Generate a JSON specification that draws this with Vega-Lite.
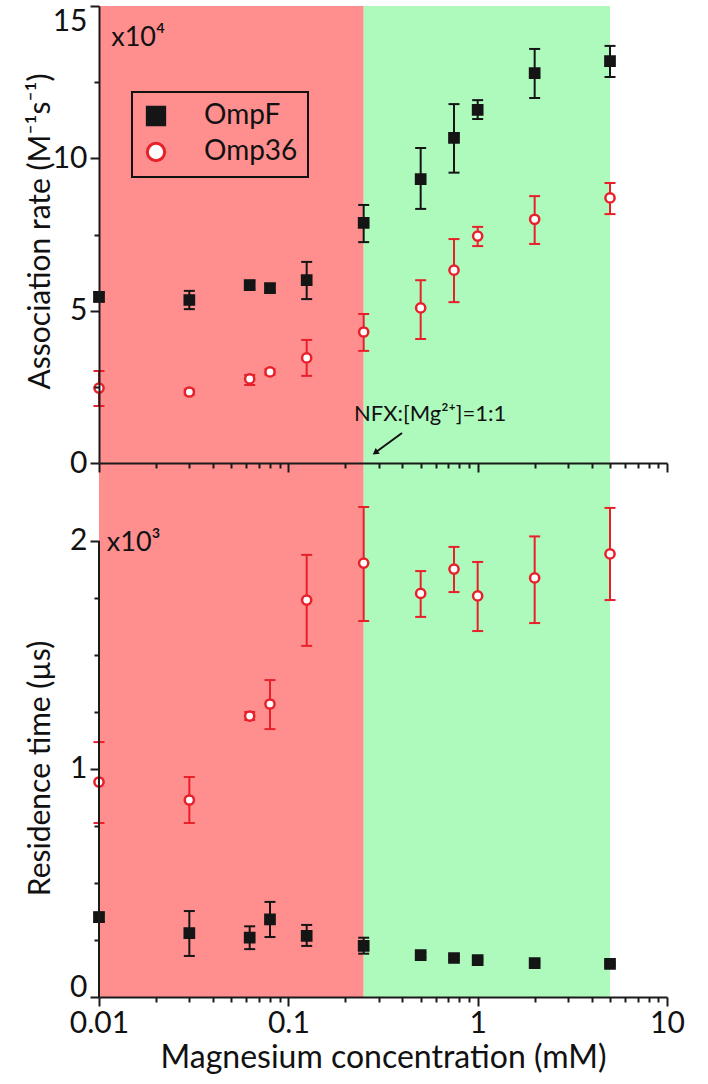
{
  "$schema": "https://vega.github.io/schema/vega-lite/v6.json",
  "padding": {"left": 25, "top": 5, "right": 5, "bottom": 5},
  "background": "white",
  "config": {
    "view": {"stroke": null},
    "font": "Lato",
    "legend": {"strokeWidth": 2, "labelFont": "Lato", "labelFontSize": 28, "labelColor": "#111111", "labelOffset": 34, "symbolSize": 300, "symbolStrokeWidth": 3, "rowPadding": 6, "padding": 10, "strokeColor": "#111111"},
    "axis": {
      "domainColor": "#1a1a1a", "domainWidth": 2, "tickColor": "#1a1a1a", "tickWidth": 2,
      "labelFont": "Lato", "labelFontSize": 30, "labelColor": "#111111",
      "titleFont": "Lato", "titleFontSize": 30, "titleFontWeight": "normal", "titleColor": "#111111",
      "grid": false, "labelOverlap": false, "labelFlush": false
    }
  },
  "spacing": 0,
  "bounds": "flush",
  "resolve": {"legend": {"fill": "independent", "stroke": "independent", "shape": "independent", "color": "independent"}},
  "datasets": {
    "bands": [
      {"zone": "low", "conc": 0.01, "conc_end": 0.25},
      {"zone": "high", "conc": 0.25, "conc_end": 5}
    ],
    "pts": [
      {"panel": "assoc", "series": "OmpF", "conc": 0.01, "val": 5.45, "lo": 5.3, "hi": 5.6},
      {"panel": "assoc", "series": "OmpF", "conc": 0.03, "val": 5.35, "lo": 5.05, "hi": 5.65},
      {"panel": "assoc", "series": "OmpF", "conc": 0.0625, "val": 5.84, "lo": 5.7, "hi": 5.98},
      {"panel": "assoc", "series": "OmpF", "conc": 0.08, "val": 5.74, "lo": 5.62, "hi": 5.86},
      {"panel": "assoc", "series": "OmpF", "conc": 0.125, "val": 6.0, "lo": 5.38, "hi": 6.6},
      {"panel": "assoc", "series": "OmpF", "conc": 0.25, "val": 7.88, "lo": 7.25, "hi": 8.47},
      {"panel": "assoc", "series": "OmpF", "conc": 0.5, "val": 9.32, "lo": 8.34, "hi": 10.34},
      {"panel": "assoc", "series": "OmpF", "conc": 0.75, "val": 10.67, "lo": 9.53, "hi": 11.78},
      {"panel": "assoc", "series": "OmpF", "conc": 1, "val": 11.59, "lo": 11.29, "hi": 11.91},
      {"panel": "assoc", "series": "OmpF", "conc": 2, "val": 12.8, "lo": 11.98, "hi": 13.59},
      {"panel": "assoc", "series": "OmpF", "conc": 5, "val": 13.19, "lo": 12.67, "hi": 13.69},
      {"panel": "assoc", "series": "Omp36", "conc": 0.01, "val": 2.46, "lo": 1.87, "hi": 3.02},
      {"panel": "assoc", "series": "Omp36", "conc": 0.03, "val": 2.33, "lo": 2.25, "hi": 2.41},
      {"panel": "assoc", "series": "Omp36", "conc": 0.0625, "val": 2.76, "lo": 2.56, "hi": 2.89},
      {"panel": "assoc", "series": "Omp36", "conc": 0.08, "val": 2.99, "lo": 2.9, "hi": 3.08},
      {"panel": "assoc", "series": "Omp36", "conc": 0.125, "val": 3.45, "lo": 2.86, "hi": 4.04},
      {"panel": "assoc", "series": "Omp36", "conc": 0.25, "val": 4.3, "lo": 3.68, "hi": 4.89},
      {"panel": "assoc", "series": "Omp36", "conc": 0.5, "val": 5.09, "lo": 4.07, "hi": 6.0},
      {"panel": "assoc", "series": "Omp36", "conc": 0.75, "val": 6.33, "lo": 5.28, "hi": 7.35},
      {"panel": "assoc", "series": "Omp36", "conc": 1, "val": 7.45, "lo": 7.12, "hi": 7.75},
      {"panel": "assoc", "series": "Omp36", "conc": 2, "val": 8.0, "lo": 7.19, "hi": 8.76},
      {"panel": "assoc", "series": "Omp36", "conc": 5, "val": 8.7, "lo": 8.17, "hi": 9.19},
      {"panel": "res", "series": "OmpF", "conc": 0.01, "val": 0.35, "lo": 0.33, "hi": 0.37},
      {"panel": "res", "series": "OmpF", "conc": 0.03, "val": 0.28, "lo": 0.18, "hi": 0.377},
      {"panel": "res", "series": "OmpF", "conc": 0.0625, "val": 0.26, "lo": 0.21, "hi": 0.31},
      {"panel": "res", "series": "OmpF", "conc": 0.08, "val": 0.34, "lo": 0.263, "hi": 0.417},
      {"panel": "res", "series": "OmpF", "conc": 0.125, "val": 0.268, "lo": 0.224, "hi": 0.316},
      {"panel": "res", "series": "OmpF", "conc": 0.25, "val": 0.224, "lo": 0.19, "hi": 0.26},
      {"panel": "res", "series": "OmpF", "conc": 0.5, "val": 0.184, "lo": 0.175, "hi": 0.193},
      {"panel": "res", "series": "OmpF", "conc": 0.75, "val": 0.171, "lo": 0.162, "hi": 0.18},
      {"panel": "res", "series": "OmpF", "conc": 1, "val": 0.162, "lo": 0.155, "hi": 0.17},
      {"panel": "res", "series": "OmpF", "conc": 2, "val": 0.149, "lo": 0.142, "hi": 0.156},
      {"panel": "res", "series": "OmpF", "conc": 5, "val": 0.145, "lo": 0.138, "hi": 0.152},
      {"panel": "res", "series": "Omp36", "conc": 0.01, "val": 0.943, "lo": 0.763, "hi": 1.118},
      {"panel": "res", "series": "Omp36", "conc": 0.03, "val": 0.864, "lo": 0.763, "hi": 0.965},
      {"panel": "res", "series": "Omp36", "conc": 0.0625, "val": 1.232, "lo": 1.215, "hi": 1.25},
      {"panel": "res", "series": "Omp36", "conc": 0.08, "val": 1.285, "lo": 1.175, "hi": 1.39},
      {"panel": "res", "series": "Omp36", "conc": 0.125, "val": 1.741, "lo": 1.54, "hi": 1.939},
      {"panel": "res", "series": "Omp36", "conc": 0.25, "val": 1.903, "lo": 1.649, "hi": 2.149},
      {"panel": "res", "series": "Omp36", "conc": 0.5, "val": 1.77, "lo": 1.667, "hi": 1.868},
      {"panel": "res", "series": "Omp36", "conc": 0.75, "val": 1.877, "lo": 1.776, "hi": 1.974},
      {"panel": "res", "series": "Omp36", "conc": 1, "val": 1.759, "lo": 1.605, "hi": 1.908},
      {"panel": "res", "series": "Omp36", "conc": 2, "val": 1.838, "lo": 1.64, "hi": 2.02},
      {"panel": "res", "series": "Omp36", "conc": 5, "val": 1.943, "lo": 1.741, "hi": 2.145}
    ]
  },
  "vconcat": [
    {
      "width": 568,
      "height": 457,
      "resolve": {"axis": {"x": "independent", "y": "independent"}},
      "layer": [
        {
          "data": {"name": "bands"},
          "mark": {"type": "rect"},
          "encoding": {
            "x": {"field": "conc", "type": "quantitative", "scale": {"type": "log", "domain": [0.01, 10], "nice": false}, "axis": null},
            "x2": {"field": "conc_end"},
            "color": {"field": "zone", "type": "nominal", "scale": {"domain": ["low", "high"], "range": ["#ff8f8f", "#aefabd"]}, "legend": null}
          }
        },
        {
          "data": {"name": "pts"},
          "transform": [{"filter": "datum.panel === 'assoc'"}],
          "mark": {"type": "rule", "strokeWidth": 2},
          "encoding": {
            "x": {"field": "conc", "type": "quantitative", "scale": {"type": "log", "domain": [0.01, 10], "nice": false}, "axis": null},
            "y": {"field": "lo", "type": "quantitative", "scale": {"domain": [0, 15], "nice": false},
              "axis": {"orient": "left", "zindex": 1, "values": [0, 5, 10, 15], "format": "d", "tickSize": 9, "labelPadding": 3,
                "labelBaseline": {"condition": {"test": "datum.value === 15", "value": "top"}, "value": "middle"},
                "title": "Association rate (M⁻¹s⁻¹)",
                "titleX": -50, "titleY": 225, "titleAngle": -90, "titleAlign": "center", "titleBaseline": "alphabetic"}},
            "y2": {"field": "hi"},
            "stroke": {"field": "series", "type": "nominal", "scale": {"domain": ["OmpF", "Omp36"], "range": ["#151515", "#e8202a"]},
              "legend": {"title": null, "orient": "none", "legendX": 33, "legendY": 86, "labelFontSize": 28, "labelOffset": 34, "symbolSize": 300, "symbolStrokeWidth": 3}}
          }
        },
        {
          "data": {"name": "pts"},
          "transform": [{"filter": "datum.panel === 'assoc'"}],
          "mark": {"type": "rule", "strokeWidth": 2, "xOffset": -5.5, "x2Offset": 5.5},
          "encoding": {
            "x": {"field": "conc", "type": "quantitative", "scale": {"type": "log", "domain": [0.01, 10], "nice": false}, "axis": null},
            "x2": {"field": "conc"},
            "y": {"field": "lo", "type": "quantitative", "scale": {"domain": [0, 15], "nice": false},
              "axis": {"orient": "left", "zindex": 1, "values": [2.5, 7.5, 12.5], "tickSize": 5, "labels": false, "domain": false, "title": null}},
            "stroke": {"field": "series", "type": "nominal", "scale": {"domain": ["OmpF", "Omp36"], "range": ["#151515", "#e8202a"]},
              "legend": {"title": null, "orient": "none", "legendX": 33, "legendY": 86, "labelFontSize": 28, "labelOffset": 34, "symbolSize": 300, "symbolStrokeWidth": 3}}
          }
        },
        {
          "data": {"name": "pts"},
          "transform": [{"filter": "datum.panel === 'assoc'"}],
          "mark": {"type": "rule", "strokeWidth": 2, "xOffset": -5.5, "x2Offset": 5.5},
          "encoding": {
            "x": {"field": "conc", "type": "quantitative", "scale": {"type": "log", "domain": [0.01, 10], "nice": false}, "axis": null},
            "x2": {"field": "conc"},
            "y": {"field": "hi", "type": "quantitative", "scale": {"domain": [0, 15], "nice": false}, "axis": null},
            "stroke": {"field": "series", "type": "nominal", "scale": {"domain": ["OmpF", "Omp36"], "range": ["#151515", "#e8202a"]},
              "legend": {"title": null, "orient": "none", "legendX": 33, "legendY": 86, "labelFontSize": 28, "labelOffset": 34, "symbolSize": 300, "symbolStrokeWidth": 3}}
          }
        },
        {
          "data": {"name": "pts"},
          "transform": [{"filter": "datum.panel === 'assoc'"}],
          "mark": {"type": "point", "filled": true, "strokeWidth": 2.5, "opacity": 1, "size": 85},
          "encoding": {
            "x": {"field": "conc", "type": "quantitative", "scale": {"type": "log", "domain": [0.01, 10], "nice": false}, "axis": null},
            "y": {"field": "val", "type": "quantitative", "scale": {"domain": [0, 15], "nice": false}, "axis": null},
            "fill": {"field": "series", "type": "nominal", "scale": {"domain": ["OmpF", "Omp36"], "range": ["#151515", "#ffffff"]},
              "legend": {"title": null, "orient": "none", "legendX": 33, "legendY": 86, "labelFontSize": 28, "labelOffset": 34, "symbolSize": 300, "symbolStrokeWidth": 3}},
            "stroke": {"field": "series", "type": "nominal", "scale": {"domain": ["OmpF", "Omp36"], "range": ["#151515", "#e8202a"]},
              "legend": {"title": null, "orient": "none", "legendX": 33, "legendY": 86, "labelFontSize": 28, "labelOffset": 34, "symbolSize": 300, "symbolStrokeWidth": 3}},
            "shape": {"field": "series", "type": "nominal", "scale": {"domain": ["OmpF", "Omp36"], "range": ["square", "circle"]},
              "legend": {"title": null, "orient": "none", "legendX": 33, "legendY": 86, "labelFontSize": 28, "labelOffset": 34, "symbolSize": 300, "symbolStrokeWidth": 3}}
          }
        },
        {
          "data": {"values": [{}]},
          "mark": {"type": "text", "align": "left", "baseline": "middle", "fontSize": 27, "font": "Lato", "color": "#111111"},
          "encoding": {
            "x": {"datum": 0.0116, "type": "quantitative", "axis": null},
            "y": {"datum": 13.95, "type": "quantitative", "axis": null},
            "text": {"value": "x10⁴"}
          }
        },
        {
          "data": {"values": [{}]},
          "mark": {"type": "text", "align": "left", "baseline": "middle", "fontSize": 22, "font": "Lato", "color": "#111111"},
          "encoding": {
            "x": {"datum": 0.222, "type": "quantitative", "axis": null},
            "y": {"datum": 1.61, "type": "quantitative", "axis": null},
            "text": {"value": "NFX:[Mg²⁺]=1:1"}
          }
        },
        {
          "data": {"values": [{}]},
          "mark": {"type": "rule", "color": "#111111", "strokeWidth": 2},
          "encoding": {
            "x": {"datum": 0.3986, "type": "quantitative", "axis": null},
            "y": {"datum": 0.985, "type": "quantitative", "axis": null},
            "x2": {"datum": 0.2906},
            "y2": {"datum": 0.361}
          }
        },
        {
          "data": {"values": [{}]},
          "mark": {"type": "point", "shape": "triangle", "filled": true, "color": "#111111", "size": 50, "angle": 234, "opacity": 1},
          "encoding": {
            "x": {"datum": 0.2906, "type": "quantitative", "axis": null},
            "y": {"datum": 0.361, "type": "quantitative", "axis": null}
          }
        }
      ]
    },
    {
      "width": 568,
      "height": 534,
      "resolve": {"axis": {"x": "independent", "y": "independent"}},
      "layer": [
        {
          "data": {"name": "bands"},
          "mark": {"type": "rect"},
          "encoding": {
            "x": {"field": "conc", "type": "quantitative", "scale": {"type": "log", "domain": [0.01, 10], "nice": false},
              "axis": {"orient": "bottom", "zindex": 1, "title": "Magnesium concentration (mM)", "titleFontSize": 32, "values": [0.01, 0.1, 1, 10], "format": "~g",
                "tickSize": 9, "labelPadding": 2, "titlePadding": 4}},
            "x2": {"field": "conc_end"},
            "color": {"field": "zone", "type": "nominal", "scale": {"domain": ["low", "high"], "range": ["#ff8f8f", "#aefabd"]}, "legend": null}
          }
        },
        {
          "data": {"name": "pts"},
          "transform": [{"filter": "datum.panel === 'res'"}],
          "mark": {"type": "rule", "strokeWidth": 2},
          "encoding": {
            "x": {"field": "conc", "type": "quantitative", "scale": {"type": "log", "domain": [0.01, 10], "nice": false},
              "axis": {"orient": "bottom", "zindex": 1, "title": null, "labels": false, "tickSize": 5, "domain": false,
                "values": [0.02,0.03,0.04,0.05,0.06,0.07,0.08,0.09,0.2,0.3,0.4,0.5,0.6,0.7,0.8,0.9,2,3,4,5,6,7,8,9]}},
            "y": {"field": "lo", "type": "quantitative", "scale": {"domain": [0, 2.342], "nice": false},
              "axis": {"orient": "left", "zindex": 1, "values": [0, 1, 2], "format": "d", "tickSize": 9, "labelPadding": 3, "domain": false,
                "labelBaseline": {"condition": {"test": "datum.value === 0", "value": "bottom"}, "value": "middle"},
                "labelOffset": {"condition": {"test": "datum.value === 0", "value": 5}, "value": 0},
                "title": "Residence time (µs)",
                "titleX": -50, "titleY": 305, "titleAngle": -90, "titleAlign": "center", "titleBaseline": "alphabetic"}},
            "y2": {"field": "hi"},
            "stroke": {"field": "series", "type": "nominal", "scale": {"domain": ["OmpF", "Omp36"], "range": ["#151515", "#e8202a"]}, "legend": null}
          }
        },
        {
          "data": {"name": "pts"},
          "transform": [{"filter": "datum.panel === 'res'"}],
          "mark": {"type": "rule", "strokeWidth": 2, "xOffset": -5.5, "x2Offset": 5.5},
          "encoding": {
            "x": {"field": "conc", "type": "quantitative", "scale": {"type": "log", "domain": [0.01, 10], "nice": false},
              "axis": {"orient": "top", "zindex": 1, "title": null, "labels": false, "tickSize": -9, "values": [0.01, 0.1, 1, 10]}},
            "x2": {"field": "conc"},
            "y": {"field": "lo", "type": "quantitative", "scale": {"domain": [0, 2.342], "nice": false},
              "axis": {"orient": "left", "zindex": 1, "values": [0.25, 0.5, 0.75, 1.25, 1.5, 1.75], "tickSize": 5, "labels": false, "domain": false, "title": null}},
            "stroke": {"field": "series", "type": "nominal", "scale": {"domain": ["OmpF", "Omp36"], "range": ["#151515", "#e8202a"]}, "legend": null}
          }
        },
        {
          "data": {"name": "pts"},
          "transform": [{"filter": "datum.panel === 'res'"}],
          "mark": {"type": "rule", "strokeWidth": 2, "xOffset": -5.5, "x2Offset": 5.5},
          "encoding": {
            "x": {"field": "conc", "type": "quantitative", "scale": {"type": "log", "domain": [0.01, 10], "nice": false},
              "axis": {"orient": "top", "zindex": 1, "title": null, "labels": false, "tickSize": -5, "domain": false,
                "values": [0.02,0.03,0.04,0.05,0.06,0.07,0.08,0.09,0.2,0.3,0.4,0.5,0.6,0.7,0.8,0.9,2,3,4,5,6,7,8,9]}},
            "x2": {"field": "conc"},
            "y": {"field": "hi", "type": "quantitative", "scale": {"domain": [0, 2.342], "nice": false}, "axis": null},
            "stroke": {"field": "series", "type": "nominal", "scale": {"domain": ["OmpF", "Omp36"], "range": ["#151515", "#e8202a"]}, "legend": null}
          }
        },
        {
          "data": {"name": "pts"},
          "transform": [{"filter": "datum.panel === 'res'"}],
          "mark": {"type": "point", "filled": true, "strokeWidth": 2.5, "opacity": 1, "size": 85},
          "encoding": {
            "x": {"field": "conc", "type": "quantitative", "scale": {"type": "log", "domain": [0.01, 10], "nice": false}, "axis": null},
            "y": {"field": "val", "type": "quantitative", "scale": {"domain": [0, 2.342], "nice": false}, "axis": null},
            "fill": {"field": "series", "type": "nominal", "scale": {"domain": ["OmpF", "Omp36"], "range": ["#151515", "#ffffff"]}, "legend": null},
            "stroke": {"field": "series", "type": "nominal", "scale": {"domain": ["OmpF", "Omp36"], "range": ["#151515", "#e8202a"]}, "legend": null},
            "shape": {"field": "series", "type": "nominal", "scale": {"domain": ["OmpF", "Omp36"], "range": ["square", "circle"]}, "legend": null}
          }
        },
        {
          "data": {"values": [{}]},
          "mark": {"type": "rule", "color": "#1a1a1a", "strokeWidth": 2},
          "encoding": {
            "x": {"datum": 0.01, "type": "quantitative", "axis": null},
            "y": {"datum": 0, "type": "quantitative", "axis": null},
            "y2": {"datum": 2}
          }
        },
        {
          "data": {"values": [{}]},
          "mark": {"type": "text", "align": "left", "baseline": "middle", "fontSize": 27, "font": "Lato", "color": "#111111"},
          "encoding": {
            "x": {"datum": 0.011, "type": "quantitative", "axis": null},
            "y": {"datum": 1.99, "type": "quantitative", "axis": null},
            "text": {"value": "x10³"}
          }
        }
      ]
    }
  ]
}
